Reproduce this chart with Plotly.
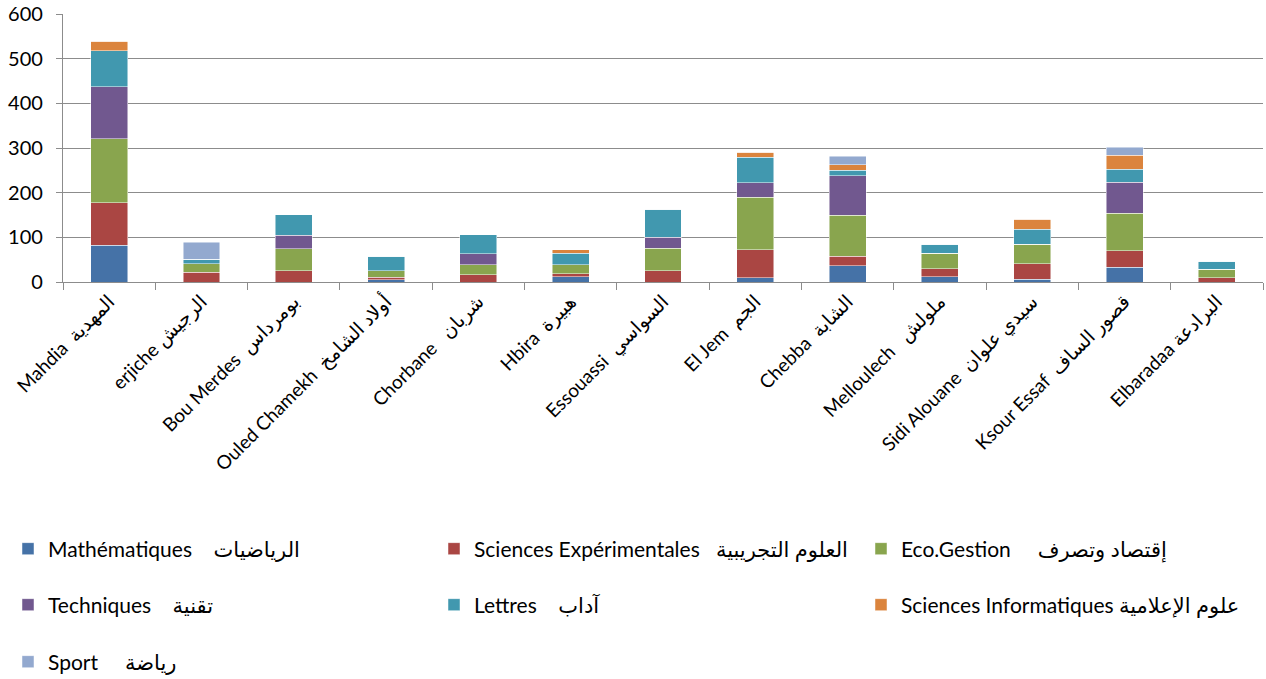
import plotly.graph_objects as go

NB = "\u00a0"

categories = ["Mahdia  المهدية", "erjiche الرجيش", "Bou Merdes  بومرداس", "Ouled Chamekh  أولاد الشامخ",
              "Chorbane   شربان", "Hbira  هبيرة", "Essouassi  السواسي", "El Jem  الجم", "Chebba  الشابة",
              "Melloulech   ملولش", "Sidi Alouane  سيدي علوان", "Ksour Essaf  قصور الساف", "Elbaradaa البرادعة"]

series_fr = ["Mathématiques", "Sciences Expérimentales", "Eco.Gestion", "Techniques", "Lettres",
             "Sciences Informatiques", "Sport"]
series_ar = ["الرياضيات", "العلوم التجريبية", "إقتصاد وتصرف", "تقنية", "آداب", "علوم الإعلامية", "رياضة"]
series_gap = [4, 3, 5, 4, 4, 1, 5]

mathematiques = [82, 0, 0, 5, 0, 12, 0, 10, 36, 12, 6, 33, 0]
sciences_exp = [95, 22, 25, 6, 16, 6, 25, 62, 22, 18, 35, 37, 10]
eco_gestion = [144, 19, 49, 14, 23, 21, 51, 118, 92, 34, 43, 84, 18]
techniques = [116, 0, 31, 0, 24, 0, 24, 32, 88, 0, 0, 69, 0]
lettres = [81, 10, 46, 33, 43, 25, 63, 57, 12, 20, 34, 29, 18]
sciences_info = [21, 0, 0, 0, 0, 8, 0, 11, 13, 0, 22, 32, 0]
sport = [0, 38, 0, 0, 0, 0, 0, 0, 19, 0, 0, 18, 0]

colors = ["#4572A7", "#AA4643", "#89A54E", "#71588F", "#4198AF", "#DB843D", "#93A9CF"]

all_series = [mathematiques, sciences_exp, eco_gestion, techniques, lettres, sciences_info, sport]

W, H = 1266, 679
# legend text start positions (px) and row centres
text_x = [46, 472, 899, 46, 472, 899, 46]
row_y = [549, 549, 549, 605, 605, 605, 662]

font_family = "Lato, 'DejaVu Sans', sans-serif"

fig = go.Figure()
legends = {}
for i, (fr, ar, gap, vals, col) in enumerate(zip(series_fr, series_ar, series_gap, all_series, colors)):
    lid = f"legend{i + 2}"
    fig.add_trace(go.Bar(x=categories, y=vals, name=fr + NB * gap + ar, marker_color=col,
                         marker_line=dict(color="rgba(255,255,255,0.6)", width=0.8),
                         legend=lid))
    lx = (text_x[i] - 38) / W
    ly = 1 - row_y[i] / H
    legends[lid] = dict(orientation="h", xref="container", yref="container", xanchor="left",
                        yanchor="middle", x=lx, y=ly,
                        font=dict(family=font_family, size=21, color="#000000"),
                        bgcolor="rgba(0,0,0,0)")

fig.update_layout(
    barmode="stack",
    bargap=0.6,
    width=W, height=H,
    margin=dict(l=63, r=W - 1263, t=14, b=H - 282, autoexpand=False),
    plot_bgcolor="white", paper_bgcolor="white",
    font=dict(family=font_family, size=19, color="#000000"),
    **legends,
)
fig.update_yaxes(range=[0, 600], dtick=100, showgrid=True, gridcolor="#8c8c8c", gridwidth=1.2,
                 showline=True, linecolor="#8c8c8c", linewidth=1.2, ticks="outside", ticklen=6,
                 tickcolor="#8c8c8c", tickfont=dict(size=20), ticklabelstandoff=9, zeroline=False,
                 ticklabeloverflow="allow")
fig.update_xaxes(tickangle=-45, showline=True, linecolor="#8c8c8c", linewidth=1.2, ticks="outside",
                 tickson="boundaries", ticklen=7, tickcolor="#8c8c8c", tickfont=dict(size=19),
                 automargin=False, ticklabeloverflow="allow")

fig.write_html("out.html", config={"displayModeBar": False},
               post_script="document.body.style.margin='0';document.body.style.overflow='hidden';")
